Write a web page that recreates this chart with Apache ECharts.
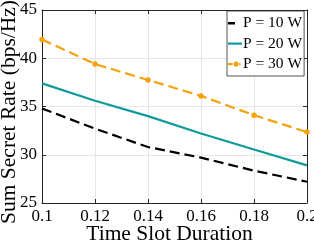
<!DOCTYPE html>
<html><head><meta charset="utf-8">
<script src="https://cdn.jsdelivr.net/npm/echarts@6/dist/echarts.min.js"></script>
<style>html,body{margin:0;padding:0;background:#fff}#c{width:314px;height:242px}</style>
</head><body><div id="c"></div>
<script>
const categories = ['0.1','0.12','0.14','0.16','0.18','0.2'];
const p10 = [34.8, 32.7, 30.8, 29.7, 28.35, 27.2];
const p20 = [37.4, 35.6, 34.0, 32.2, 30.55, 28.9];
const p30 = [41.95, 39.4, 37.75, 36.1, 34.1, 32.35];
const seriesNames = ['P = 10 W','P = 20 W','P = 30 W'];
const yTicks = {min:25, max:45, interval:5};
const font = 'Liberation Serif';
const axisCol = '#262626';
const cBlack = '#000000', cTeal = '#0e9a9a', cOrange = '#f5a20c';
const chart = echarts.init(document.getElementById('c'), null, {renderer:'canvas'});
chart.setOption({
  animation:false,
  backgroundColor:'#fff',
  grid:{left:42, right:7, top:10, bottom:39, containLabel:false, outerBoundsMode:'none'},
  legend:{
    orient:'vertical', left:227, top:11,
    backgroundColor:'#fff', borderColor:axisCol, borderWidth:0.8,
    padding:[4,2,4,1], itemGap:4.5, itemWidth:14, itemHeight:14,
    textStyle:{fontFamily:font, fontSize:15.5, color:'#000', padding:[0,0,0,-4]},
    data:[
      {name:seriesNames[0], icon:'path://M0,0 M14,14 M0,6 L7,6 L7,8.5 L0,8.5 Z', itemStyle:{color:cBlack}},
      {name:seriesNames[1], icon:'path://M0,0 M14,14 M0,6 L14,6 L14,8.2 L0,8.2 Z', itemStyle:{color:cTeal}},
      {name:seriesNames[2], icon:'path://M0,0 M14,14 M0,6 L4.5,6 L4.5,8.2 L0,8.2 Z M5.5,7.1 A2.6,2.6 0 1 0 10.7,7.1 A2.6,2.6 0 1 0 5.5,7.1 Z M10,6 L12.5,6 L12.5,8.2 L10,8.2 Z', itemStyle:{color:cOrange}}
    ]
  },
  xAxis:[{
    type:'category', data:categories, boundaryGap:false,
    name:'Time Slot Duration', nameLocation:'middle', nameGap:20, nameMoveOverlap:false,
    nameTextStyle:{fontFamily:font, fontSize:21.5, color:'#000', padding:[0,10,0,0]},
    axisLine:{lineStyle:{color:axisCol, width:1}},
    axisTick:{inside:true, length:4, lineStyle:{color:axisCol}},
    axisLabel:{fontFamily:font, fontSize:17, color:'#000', margin:5},
    splitLine:{show:true, lineStyle:{color:'#e6e6e6', width:1}}
  },{
    type:'category', data:categories, boundaryGap:false, position:'top',
    axisLine:{lineStyle:{color:axisCol, width:1}},
    axisTick:{inside:true, length:4, lineStyle:{color:axisCol}},
    axisLabel:{show:false}, splitLine:{show:false}
  }],
  yAxis:[{
    type:'value', min:yTicks.min, max:yTicks.max, interval:yTicks.interval,
    name:'Sum Secret Rate (bps/Hz)', nameLocation:'middle', nameGap:22, nameMoveOverlap:false,
    nameTextStyle:{fontFamily:font, fontSize:21.5, color:'#000', padding:[0,11,0,0]},
    axisLine:{show:true, lineStyle:{color:axisCol, width:1}},
    axisTick:{show:true, inside:true, length:4, lineStyle:{color:axisCol}},
    axisLabel:{fontFamily:font, fontSize:17, color:'#000', margin:5},
    splitLine:{show:true, lineStyle:{color:'#e6e6e6', width:1}}
  },{
    type:'value', min:yTicks.min, max:yTicks.max, interval:yTicks.interval, position:'right',
    axisLine:{show:true, lineStyle:{color:axisCol, width:1}},
    axisTick:{show:true, inside:true, length:4, lineStyle:{color:axisCol}},
    axisLabel:{show:false}, splitLine:{show:false}
  }],
  series:[
    {name:seriesNames[0], type:'line', data:p10, showSymbol:false, symbol:'none',
     itemStyle:{color:cBlack}, lineStyle:{color:cBlack, width:2.2, type:[10,5]}},
    {name:seriesNames[1], type:'line', data:p20, showSymbol:false, symbol:'none',
     itemStyle:{color:cTeal}, lineStyle:{color:cTeal, width:2.2}},
    {name:seriesNames[2], type:'line', data:p30, symbol:'circle', symbolSize:5.5,
     itemStyle:{color:cOrange}, lineStyle:{color:cOrange, width:2.2, type:[10,5]}}
  ]
});
</script></body></html>
